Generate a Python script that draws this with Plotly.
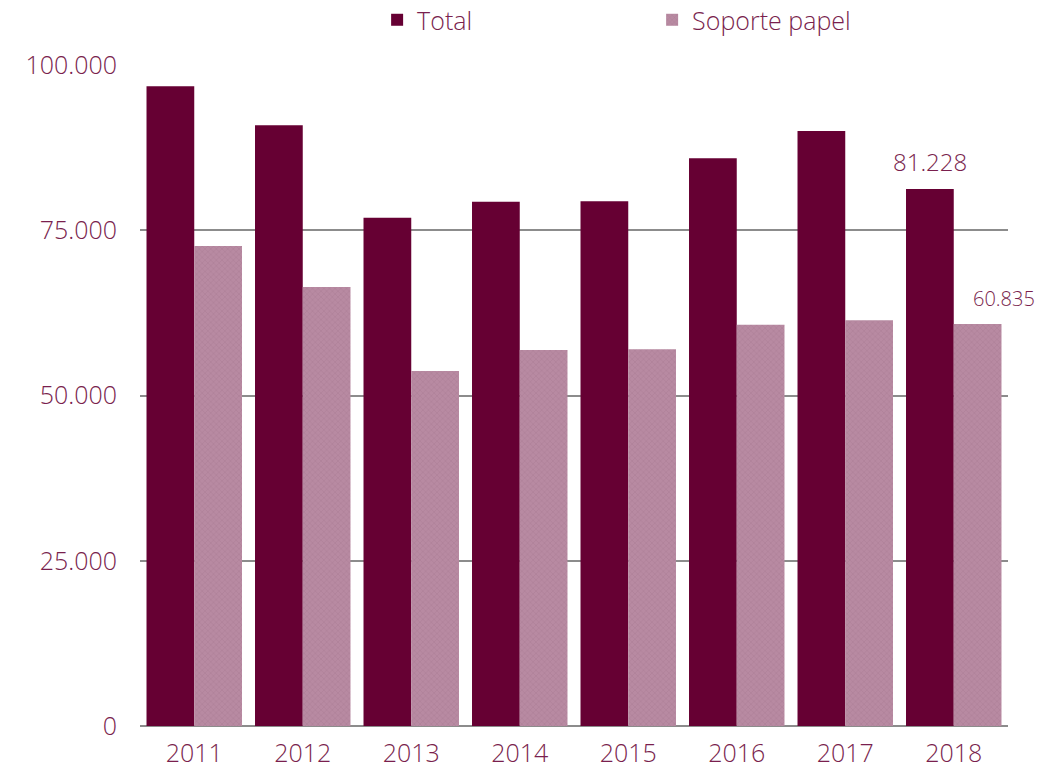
import plotly.graph_objects as go

years = ["2011", "2012", "2013", "2014", "2015", "2016", "2017", "2018"]
total = [96800, 90900, 76900, 79300, 79400, 85900, 90000, 81228]
papel = [72600, 66400, 53700, 56900, 57000, 60700, 61400, 60835]
tick_vals = [0, 25000, 50000, 75000, 100000]
tick_text = ["0", "25.000", "50.000", "75.000", "100.000"]

TXT = "#7a1f4e"
FONT = "Open Sans"
W = 300

fig = go.Figure()
fig.add_trace(go.Bar(
    x=years, y=total, name="Total",
    marker=dict(color="#660033", line=dict(width=0)),
))
fig.add_trace(go.Bar(
    x=years, y=papel, name="Soporte papel",
    marker=dict(color="#b5849e", line=dict(width=0),
                pattern=dict(shape="x", size=4, solidity=0.25,
                             fgcolor="#a07088", bgcolor="#b88aa2")),
))

last = len(years) - 1
fig.add_annotation(x=last, y=total[-1], text="81.228", showarrow=False,
                   xshift=-24, yshift=9, yanchor="bottom",
                   font=dict(family=FONT, size=24, color=TXT, weight=W))
fig.add_annotation(x=last, y=papel[-1], text="60.835", showarrow=False,
                   xshift=50, yshift=10, yanchor="bottom",
                   font=dict(family=FONT, size=20, color=TXT, weight=W))

fig.update_layout(
    width=1039, height=770,
    margin=dict(l=140, r=31, t=65, b=44, autoexpand=False),
    paper_bgcolor="white", plot_bgcolor="white",
    barmode="group", bargap=0.12, bargroupgap=0,
    font=dict(family=FONT, color=TXT, size=25, weight=W),
    legend=dict(orientation="h", x=0.59, xanchor="center",
                yref="container", y=0.974, yanchor="middle",
                entrywidth=230, font=dict(size=25, color=TXT, weight=W),
                itemwidth=30, traceorder="normal"),
    showlegend=True,
)
fig.update_yaxes(range=[0, 100000], tickvals=tick_vals, ticktext=tick_text,
                 showgrid=True, gridcolor="#8c8c8c", gridwidth=2,
                 zeroline=True, zerolinecolor="#8c8c8c", zerolinewidth=2,
                 ticks="", ticklabelstandoff=22,
                 tickfont=dict(family=FONT, size=25, color=TXT, weight=W))
fig.update_xaxes(type="category", range=[-0.5, len(years) - 0.5],
                 showline=False, ticks="", ticklabelstandoff=10,
                 tickfont=dict(family=FONT, size=25, color=TXT, weight=W))

fig.write_html("out.html", config={"displayModeBar": False},
               post_script="document.body.style.margin='0';")
